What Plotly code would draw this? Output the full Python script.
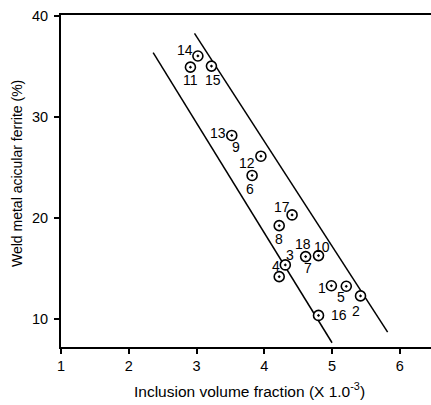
import plotly.graph_objects as go

# Data points (inclusion volume fraction x1e-3, acicular ferrite %)
pt_x = [3.02, 2.91, 3.22, 3.52, 3.95, 3.82, 4.41, 4.22, 4.61, 4.80, 4.31, 4.22, 4.99, 5.21, 5.42, 4.80]
pt_y = [36.0, 34.9, 35.0, 28.15, 26.1, 24.2, 20.3, 19.24, 16.18, 16.28, 15.36, 14.2, 13.3, 13.25, 12.3, 10.37]

# Labels: (text, index of point, dx px, dy px down)
label_text = ["14", "11", "15", "13", "9", "12", "6", "17", "8", "18", "7", "10", "3", "4", "1", "5", "2", "16"]
label_pt = [0, 1, 2, 3, 3, 4, 5, 6, 7, 8, 8, 9, 10, 11, 12, 13, 14, 15]
label_dx = [-13, 0, 2, -14, 4, -14, -2, -10, 0, -3, 2, 3, 5, -3, -9, -5, -5, 20]
label_dy = [-6, 13, 14, -2, 12, 7, 14, -8, 13, -13, 11, -9, -10, -11, 2, 11, 15, 0]

# Band lines endpoints
lower_x = [2.36, 5.00]
lower_y = [36.33, 7.67]
upper_x = [2.97, 5.82]
upper_y = [38.24, 8.72]

x_ticks = [1, 2, 3, 4, 5, 6]
y_ticks = [10, 20, 30, 40]

x_title = "Inclusion volume fraction (X 1.0<sup>-3</sup>)"
y_title = "Weld metal acicular ferrite (%)"

FONT = "Liberation Sans, Arial, sans-serif"

fig = go.Figure()
fig.add_trace(go.Scatter(x=lower_x, y=lower_y, mode="lines",
                         line=dict(color="black", width=1.5), showlegend=False))
fig.add_trace(go.Scatter(x=upper_x, y=upper_y, mode="lines",
                         line=dict(color="black", width=1.5), showlegend=False))
fig.add_trace(go.Scatter(x=pt_x, y=pt_y, mode="markers",
                         marker=dict(symbol="circle-dot", size=10, color="white",
                                     line=dict(color="black", width=1.6)),
                         showlegend=False))

for t, i, dx, dy in zip(label_text, label_pt, label_dx, label_dy):
    fig.add_annotation(x=pt_x[i], y=pt_y[i], text=t, showarrow=False,
                       xshift=dx, yshift=-dy,
                       font=dict(family=FONT, size=14, color="black"))

# axis titles as annotations (paper coords) for exact placement
fig.add_annotation(xref="paper", yref="paper", x=(249 - 61) / 370, y=-(390 - 347) / 332,
                   text=x_title, showarrow=False, xanchor="center", yanchor="middle",
                   font=dict(family=FONT, size=15.5, color="black"))
fig.add_annotation(xref="paper", yref="paper", x=-(61 - 17) / 370, y=(347 - 174) / 332,
                   text=y_title, showarrow=False, textangle=-90,
                   xanchor="center", yanchor="middle",
                   font=dict(family=FONT, size=14, color="black"))

fig.update_layout(
    width=431, height=405,
    margin=dict(l=61, r=0, t=15, b=58),
    plot_bgcolor="white", paper_bgcolor="white",
    font=dict(family=FONT, size=15, color="black"),
    xaxis=dict(range=[1, 6.46], tickvals=x_ticks, showgrid=False, zeroline=False,
               showline=True, linecolor="black", linewidth=2, mirror=True,
               ticks="outside", ticklen=5, tickwidth=1.5, tickcolor="black",
               tickfont=dict(size=14.5)),
    yaxis=dict(range=[7.25, 40.05], tickvals=y_ticks, showgrid=False, zeroline=False,
               showline=True, linecolor="black", linewidth=2,
               ticks="outside", ticklen=5, tickwidth=1.5, tickcolor="black",
               tickfont=dict(size=14.5), ticklabelstandoff=3),
)

fig.write_html("out.html")
